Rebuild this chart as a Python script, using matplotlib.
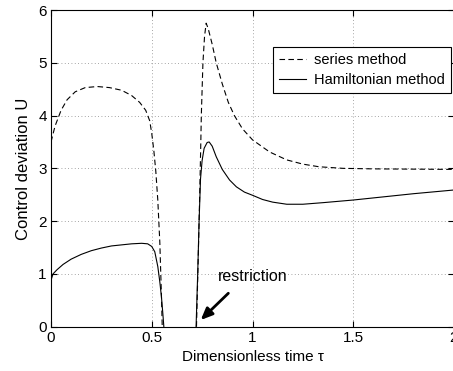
import matplotlib
matplotlib.use('Agg')
import matplotlib.pyplot as plt

plt.rcParams['font.family'] = ['Liberation Sans', 'DejaVu Sans']

# series method (dashed), two branches
series_t1 = [0.0, 0.02, 0.05, 0.08, 0.12, 0.17, 0.23, 0.29, 0.35, 0.40, 0.44, 0.47,
             0.49, 0.50, 0.51, 0.52, 0.53, 0.54, 0.548, 0.552]
series_u1 = [3.5, 3.8, 4.1, 4.3, 4.45, 4.53, 4.55, 4.53, 4.48, 4.38, 4.25, 4.1,
             3.9, 3.66, 3.35, 2.95, 2.4, 1.6, 0.6, 0.0]
series_t2 = [0.722, 0.73, 0.738, 0.743, 0.746, 0.754, 0.762, 0.77, 0.78, 0.80, 0.82,
             0.85, 0.88, 0.91, 0.95, 1.0, 1.085, 1.17, 1.25, 1.33, 1.45, 1.6, 2.0]
series_u2 = [0.0, 1.2, 2.5, 3.4, 4.0, 5.0, 5.5, 5.75, 5.65, 5.35, 5.0,
             4.6, 4.25, 4.0, 3.75, 3.54, 3.31, 3.16, 3.08, 3.03, 3.0, 2.99, 2.98]

# Hamiltonian method (solid), two branches
ham_t1 = [0.0, 0.01, 0.03, 0.06, 0.10, 0.15, 0.20, 0.25, 0.30, 0.35, 0.40, 0.45,
          0.48, 0.50, 0.515, 0.53, 0.54, 0.548, 0.555, 0.56]
ham_u1 = [0.88, 1.0, 1.08, 1.18, 1.28, 1.37, 1.44, 1.49, 1.53, 1.55, 1.57, 1.58,
          1.57, 1.52, 1.42, 1.14, 0.85, 0.57, 0.25, 0.0]
ham_t2 = [0.72, 0.728, 0.735, 0.742, 0.75, 0.76, 0.775, 0.785, 0.80, 0.82, 0.85,
          0.886, 0.92, 0.96, 1.0, 1.05, 1.1, 1.17, 1.25, 1.35, 1.5, 1.65, 1.8, 2.0]
ham_u2 = [0.0, 1.0, 2.0, 2.8, 3.15, 3.38, 3.49, 3.5, 3.42, 3.22, 2.98,
          2.78, 2.65, 2.55, 2.49, 2.41, 2.36, 2.32, 2.32, 2.35, 2.40, 2.46, 2.52, 2.59]

xticks = [0, 0.5, 1, 1.5, 2]
xtick_labels = ['0', '0.5', '1', '1.5', '2']
yticks = [0, 1, 2, 3, 4, 5, 6]

fig = plt.figure(figsize=(4.53, 3.71), dpi=100)
ax = fig.add_axes([51/453, 44.3/371, 403/453, 316.7/371])

dash = (0, (5, 3))
ax.plot(series_t1, series_u1, color='black', lw=0.8, linestyle=dash, label='series method')
ax.plot(series_t2, series_u2, color='black', lw=0.8, linestyle=dash)
ax.plot(ham_t1, ham_u1, color='black', lw=0.8, label='Hamiltonian method')
ax.plot(ham_t2, ham_u2, color='black', lw=0.8)

ax.set_xlim(0, 2)
ax.set_ylim(0, 6)
ax.set_xticks(xticks)
ax.set_xticklabels(xtick_labels)
ax.set_yticks(yticks)
ax.tick_params(direction='in', top=True, right=True, length=4, labelsize=11, pad=3)
ax.grid(True, color='#888888', linestyle=(0, (1, 3)), lw=0.6)
for s in ax.spines.values():
    s.set_linewidth(0.8)

ax.set_xlabel('Dimensionless time τ', fontsize=11, labelpad=4)
ax.set_ylabel('Control deviation U', fontsize=12, labelpad=5)

ax.text(0.827, 0.96, 'restriction', fontsize=11.5, ha='left', va='center')
ax.annotate('', xy=(0.733, 0.09), xytext=(0.89, 0.67),
            arrowprops=dict(arrowstyle='-|>,head_width=0.3,head_length=0.7',
                            color='black', lw=2))

leg = ax.legend(loc='upper right', bbox_to_anchor=(451/453, 1 - 47/371),
                bbox_transform=fig.transFigure, fancybox=False, fontsize=10.5,
                framealpha=1, edgecolor='black', handlelength=1.8,
                borderpad=0.4, labelspacing=0.42, handletextpad=0.6,
                borderaxespad=0)
leg.get_frame().set_linewidth(0.8)

fig.savefig('out.png', dpi=100)
